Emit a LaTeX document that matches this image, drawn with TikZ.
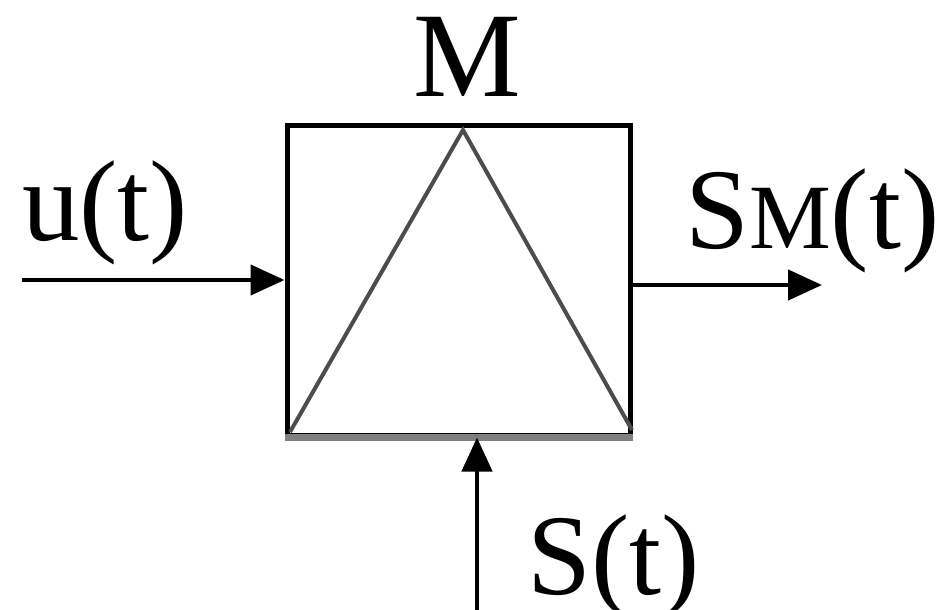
\documentclass[tikz,border=0pt]{standalone}
\usepackage{fontspec}
\setmainfont{Liberation Serif}
\usetikzlibrary{arrows.meta}
\begin{document}
\begin{tikzpicture}[x=1pt,y=1pt,
  lbl/.style={inner sep=0pt,font=\fontsize{115}{115}\selectfont},
  conn/.style={line width=4.5pt,-{Triangle[length=34pt,width=30pt]}},
  tri/.style={line width=4pt,draw=black!70,line join=miter}]
\useasboundingbox (0,0) rectangle (946,-610);
\node[draw,line width=5pt,minimum width=343pt,minimum height=310pt,inner sep=0pt] (box) at (458.5,-280) {};
\draw[line width=7pt,draw=black!50] (box.south west) -- (box.south east);
\coordinate (apex) at (463,-130);
\coordinate (bl) at (290,-432);
\coordinate (br) at (632,-430);
\draw[tri] (bl) -- (apex) -- (br);
\coordinate (in) at (22,-280);
\coordinate (out) at (822,-285);
\coordinate (sb) at (477,-610);
\draw[conn] (in) -- (box.west);
\draw[conn] ([yshift=-5pt]box.east) -- (out);
\draw[conn] (sb) -- ([xshift=18.5pt]box.south);
\node[lbl,anchor=base,font=\fontsize{121}{121}\selectfont] (m) at (467,-96) {M};
\node[lbl,anchor=base west] (u) at (22,-240) {u(t)};
\node[lbl,anchor=base west] (sm) at (685,-248) {S{\fontsize{92}{92}\selectfont M}(t)};
\node[lbl,anchor=base west] (s) at (527,-594) {S(t)};
\end{tikzpicture}
\end{document}
